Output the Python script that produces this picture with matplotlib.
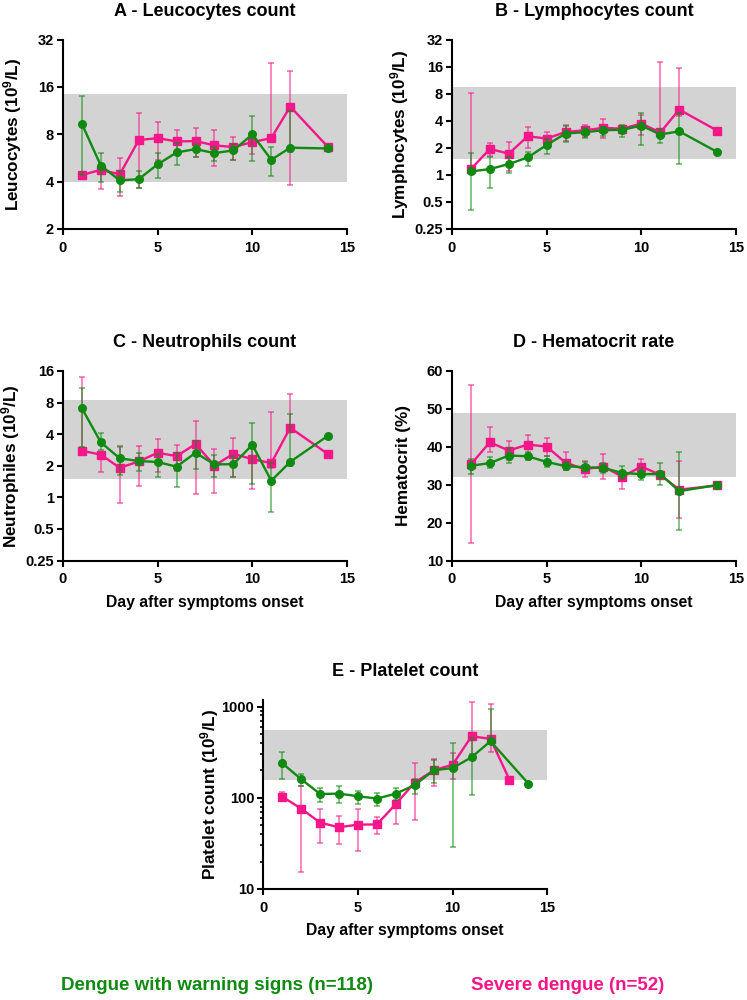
import matplotlib
matplotlib.use("Agg")
import matplotlib.pyplot as plt
from matplotlib.ticker import NullLocator, LogLocator

plt.rcParams['font.family'] = ['Liberation Sans', 'DejaVu Sans']
plt.rcParams['font.weight'] = 'bold'
plt.rcParams['mathtext.fontset'] = 'custom'
plt.rcParams['mathtext.rm'] = 'Liberation Sans:bold'
plt.rcParams['mathtext.bf'] = 'Liberation Sans:bold'
plt.rcParams['mathtext.default'] = 'rm'

GREEN = '#108a10'
PINK = '#f5168a'

days = [1, 2, 3, 4, 5, 6, 7, 8, 9, 10, 11, 12, 14]
days_e_green = [1, 2, 3, 4, 5, 6, 7, 8, 9, 10, 11, 12, 14]
days_e_pink = [1, 2, 3, 4, 5, 6, 7, 8, 9, 10, 11, 12, 13]

# A - Leucocytes
a_green = [9.3, 5.05, 4.07, 4.15, 5.15, 6.13, 6.44, 6.07, 6.32, 7.98, 5.51, 6.57, 6.50]
a_green_lo = [4.4, 3.98, 3.43, 3.66, 4.22, 5.1, 5.73, 5.4, 5.5, 5.43, 4.32, 6.2, 6.5]
a_green_hi = [14.1, 6.1, 4.67, 4.67, 6.08, 7.0, 6.9, 6.6, 6.9, 10.4, 6.63, 11.3, 6.5]
a_pink = [4.40, 4.76, 4.45, 7.35, 7.56, 7.20, 7.24, 6.80, 6.63, 7.13, 7.56, 12.0, 6.63]
a_pink_lo = [4.3, 3.6, 3.24, 3.67, 5.5, 6.16, 5.73, 5.0, 5.5, 5.99, 7.4, 3.79, 6.63]
a_pink_hi = [4.5, 4.9, 5.62, 10.9, 9.56, 8.54, 8.8, 8.54, 7.71, 7.3, 22.7, 20.2, 6.63]

# B - Lymphocytes
b_green = [1.09, 1.16, 1.32, 1.56, 2.15, 2.88, 2.98, 3.13, 3.17, 3.53, 2.81, 3.05, 1.80]
b_green_lo = [0.41, 0.71, 1.05, 1.27, 1.72, 2.32, 2.55, 2.68, 2.66, 2.17, 2.28, 1.31, 1.80]
b_green_hi = [1.77, 1.6, 1.58, 1.81, 2.5, 3.47, 3.3, 3.4, 3.62, 4.89, 3.27, 4.9, 1.80]
b_pink = [1.16, 1.94, 1.72, 2.69, 2.53, 3.00, 3.13, 3.33, 3.26, 3.72, 2.96, 5.32, 3.11]
b_pink_lo = [1.1, 1.64, 1.1, 2.01, 2.17, 2.37, 2.64, 2.60, 3.0, 2.78, 2.9, 4.5, 3.11]
b_pink_hi = [8.2, 2.27, 2.34, 3.41, 3.03, 3.59, 3.6, 4.15, 3.5, 4.64, 18.1, 15.6, 3.11]

# C - Neutrophils
c_green = [7.05, 3.34, 2.35, 2.22, 2.17, 1.96, 2.66, 2.06, 2.07, 3.17, 1.44, 2.18, 3.87]
c_green_lo = [3.04, 2.8, 1.62, 1.77, 1.56, 1.26, 1.85, 1.57, 1.57, 1.34, 0.73, 2.0, 3.87]
c_green_hi = [11.0, 4.10, 3.08, 2.64, 2.6, 2.62, 3.41, 2.55, 2.5, 5.07, 2.14, 6.18, 3.87]
c_pink = [2.78, 2.55, 1.91, 2.20, 2.66, 2.47, 3.22, 2.01, 2.60, 2.31, 2.12, 4.61, 2.58]
c_pink_lo = [2.7, 1.75, 0.89, 1.29, 1.73, 1.77, 1.07, 1.11, 1.57, 1.19, 1.9, 4.3, 2.58]
c_pink_hi = [14.1, 2.7, 3.0, 3.10, 3.62, 3.17, 5.33, 2.90, 3.70, 3.2, 6.55, 9.58, 2.58]

# D - Hematocrit
d_green = [35.0, 35.7, 37.7, 37.5, 36.0, 34.9, 34.6, 34.4, 33.1, 32.8, 32.8, 28.3, 29.9]
d_green_lo = [32.9, 34.3, 35.7, 36.45, 34.7, 33.8, 33.5, 33.0, 31.6, 31.2, 29.9, 18.0, 29.9]
d_green_hi = [36.8, 37.2, 39.6, 38.6, 37.6, 36.0, 35.9, 35.8, 35.0, 34.3, 35.8, 38.5, 29.9]
d_pink = [35.4, 41.2, 39.0, 40.6, 40.05, 35.8, 34.1, 34.8, 32.1, 34.8, 32.6, 28.7, 29.8]
d_pink_lo = [14.5, 38.5, 36.5, 38.0, 37.5, 34.0, 32.0, 31.4, 28.8, 33.0, 32.0, 21.1, 29.8]
d_pink_hi = [56.3, 45.15, 41.5, 43.0, 42.2, 38.7, 36.3, 38.1, 33.5, 36.9, 33.5, 36.3, 29.8]

# E - Platelets
e_green = [239, 160, 110, 111, 104, 98, 111, 138, 200, 212, 278, 417, 143]
e_green_lo = [160, 136, 91, 88.5, 85, 81, 95, 110, 147, 28.9, 107, 400, 143]
e_green_hi = [321, 184, 129, 134, 120, 114, 129, 162, 260, 397, 453, 943, 143]
e_pink = [103, 76, 53.4, 47.5, 50.8, 51, 85.5, 147, 200, 231, 473, 442, 158]
e_pink_lo = [93, 15.2, 32.2, 31.2, 25.9, 39.8, 51.6, 57.6, 135, 159, 300, 320, 158]
e_pink_hi = [116, 136, 74.8, 63.2, 76, 62, 93, 239, 264, 308, 1125, 1069, 158]

fig = plt.figure(figsize=(7.47, 10), dpi=100)

W = 0.3802
H = 0.1895


def draw_series(ax, x, v, lo, hi, color, marker, z):
    err = [[vi - l for vi, l in zip(v, lo)], [h - vi for vi, h in zip(v, hi)]]
    ax.errorbar(x, v, yerr=err, fmt='none', ecolor=color, alpha=0.6,
                elinewidth=1.2, capsize=2.5, capthick=1.2, zorder=z)
    ax.plot(x, v, color=color, lw=1.7, marker=marker, ms=5.5, zorder=z + 1)


def style(ax):
    for s in ['top', 'right']:
        ax.spines[s].set_visible(False)
    for s in ['left', 'bottom']:
        ax.spines[s].set_linewidth(1.5)
    ax.tick_params(axis='both', which='major', length=4.5, width=1.5,
                   labelsize=10.5)
    ax.tick_params(axis='x', which='major', pad=4)
    ax.tick_params(axis='y', which='major', pad=2)
    ax.set_xlim(0, 15)
    ax.set_xticks([0, 5, 10, 15])
    for lab in ax.get_xticklabels() + ax.get_yticklabels():
        lab.set_fontweight('bold')


def panel(rect, title, ylabel, label_x, xg, g, glo, ghi, xp, p, plo, phi,
          band, ylim, yticks, yticklabels, scale, xlabel=False):
    ax = fig.add_axes(rect)
    ax.axhspan(band[0], band[1], xmin=0, xmax=1, color='#d3d3d3', lw=0, zorder=0)
    draw_series(ax, xp, p, plo, phi, PINK, 's', 2)
    draw_series(ax, xg, g, glo, ghi, GREEN, 'o', 4)
    if scale == 'log2':
        ax.set_yscale('log', base=2)
    elif scale == 'log10':
        ax.set_yscale('log', base=10)
    ax.set_ylim(*ylim)
    ax.set_yticks(yticks)
    ax.set_yticklabels(yticklabels)
    if scale == 'log10':
        ax.yaxis.set_minor_locator(LogLocator(base=10, subs=range(2, 10)))
        ax.tick_params(axis='y', which='minor', length=2.5, width=1.2)
    else:
        ax.yaxis.set_minor_locator(NullLocator())
    style(ax)
    ax.set_title(title, fontsize=13, fontweight='bold', pad=17)
    ax.set_ylabel(ylabel, fontsize=12.3, fontweight='bold')
    ax.yaxis.set_label_coords(label_x, 0.5)
    if xlabel:
        ax.set_xlabel('Day after symptoms onset', fontsize=11.3, fontweight='bold', labelpad=6)
    return ax


panel([63 / 747, 0.771, W, H], 'A - Leucocytes count', 'Leucocytes (10$^{9}$/L)', -0.139,
      days, a_green, a_green_lo, a_green_hi, days, a_pink, a_pink_lo, a_pink_hi,
      (4, 14.5), (2, 32), [2, 4, 8, 16, 32], ['2', '4', '8', '16', '32'], 'log2')

panel([452 / 747, 0.771, W, H], 'B - Lymphocytes count', 'Lymphocytes (10$^{9}$/L)', -0.143,
      days, b_green, b_green_lo, b_green_hi, days, b_pink, b_pink_lo, b_pink_hi,
      (1.5, 9.5), (0.25, 32), [0.25, 0.5, 1, 2, 4, 8, 16, 32],
      ['0.25', '0.5', '1', '2', '4', '8', '16', '32'], 'log2')

panel([63 / 747, 0.4395, W, H], 'C - Neutrophils count', 'Neutrophiles (10$^{9}$/L)', -0.146,
      days, c_green, c_green_lo, c_green_hi, days, c_pink, c_pink_lo, c_pink_hi,
      (1.5, 8.5), (0.25, 16), [0.25, 0.5, 1, 2, 4, 8, 16],
      ['0.25', '0.5', '1', '2', '4', '8', '16'], 'log2', xlabel=True)

panel([452 / 747, 0.4395, W, H], 'D - Hematocrit rate', 'Hematocrit (%)', -0.143,
      days, d_green, d_green_lo, d_green_hi, days, d_pink, d_pink_lo, d_pink_hi,
      (32, 49), (10, 60), [10, 20, 30, 40, 50, 60],
      ['10', '20', '30', '40', '50', '60'], 'linear', xlabel=True)

panel([263.3 / 747, 0.111, W, 0.189], 'E - Platelet count', 'Platelet count (10$^{9}$/L)', -0.148,
      days_e_green, e_green, e_green_lo, e_green_hi,
      days_e_pink, e_pink, e_pink_lo, e_pink_hi,
      (158, 550), (10, 1180), [10, 100, 1000], ['10', '100', '1000'], 'log10',
      xlabel=True)

fig.text(217 / 747, 1 - 985 / 1000, 'Dengue with warning signs (n=118)', color=GREEN,
         fontsize=13.5, fontweight='bold', ha='center', va='center')
fig.text(568 / 747, 1 - 985 / 1000, 'Severe dengue (n=52)', color=PINK,
         fontsize=13.5, fontweight='bold', ha='center', va='center')

fig.savefig('out.png', dpi=100)
